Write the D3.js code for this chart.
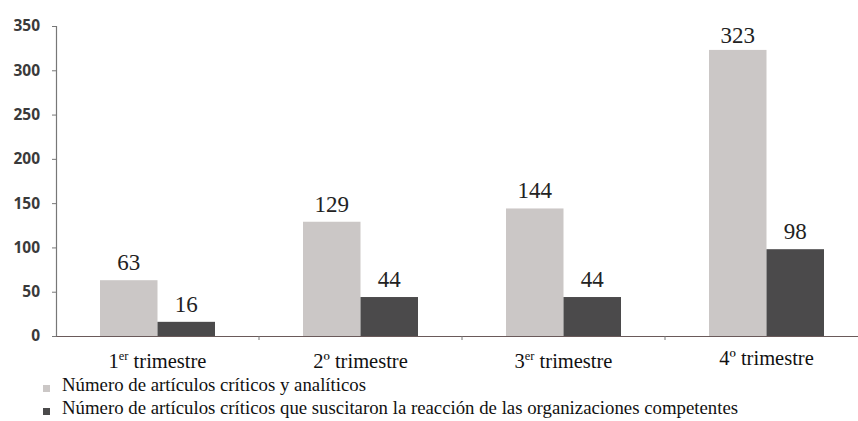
<!DOCTYPE html>
<html>
<head>
<meta charset="utf-8">
<script src="https://cdn.jsdelivr.net/npm/d3@7"></script>
<style>
  html, body { margin: 0; padding: 0; background: #fff; }
  svg { display: block; }
</style>
</head>
<body>
<svg id="chart" width="858" height="421"></svg>
<script>
// Quarters and the two article counts per quarter
const quarters = ["q1", "q2", "q3", "q4"];
const quarterNum = ["1", "2º", "3", "4º"];
const quarterSup = ["er", "", "er", ""];
const criticalArticles = [63, 129, 144, 323];
const withReaction = [16, 44, 44, 98];
const seriesNames = [
  "Número de artículos críticos y analíticos",
  "Número de artículos críticos que suscitaron la reacción de las organizaciones competentes"
];
const yTicks = [0, 50, 100, 150, 200, 250, 300, 350];

const colors = ["#cbc7c6", "#4b4a4b"];
const SERIF = '"Liberation Serif"';
const SANS = '"Open Sans"';

const svg = d3.select("#chart");
const x0 = 56, x1 = 868, yBase = 336, yTop = 26;

const x = d3.scaleBand().domain(quarters).range([x0, x1]).paddingInner(0).paddingOuter(0);
const y = d3.scaleLinear().domain([0, 350]).range([yBase, yTop]);
const groupW = 115;
const xs = d3.scaleBand().domain([0, 1]).range([0, groupW]);

// Bars and their value labels
const series = [criticalArticles, withReaction];
series.forEach((vals, si) => {
  svg.append("g").selectAll("rect")
    .data(vals)
    .join("rect")
    .attr("x", (d, i) => x(quarters[i]) + x.bandwidth() / 2 - groupW / 2 + xs(si))
    .attr("y", d => y(d))
    .attr("width", xs.bandwidth())
    .attr("height", d => y(0) - y(d))
    .attr("fill", colors[si]);

  svg.append("g").selectAll("text")
    .data(vals)
    .join("text")
    .attr("x", (d, i) => x(quarters[i]) + x.bandwidth() / 2 - groupW / 2 + xs(si) + xs.bandwidth() / 2)
    .attr("y", d => Math.max(y(d) - 10, 43))
    .attr("text-anchor", "middle")
    .style("font-family", SERIF)
    .style("font-size", "23px")
    .style("fill", "#222")
    .text(d => d);
});

// Y axis
const yAxis = d3.axisLeft(y).tickValues(yTicks).tickSize(4).tickPadding(12);
const gy = svg.append("g").attr("transform", `translate(${x0},0)`).call(yAxis);
gy.select(".domain").attr("stroke", "#777").attr("stroke-width", 1.2);
gy.selectAll(".tick line").attr("stroke", "#777");
gy.selectAll(".tick text")
  .style("font-family", SANS)
  .style("font-weight", "bold")
  .style("font-size", "15.5px")
  .style("fill", "#3a3a3a");

// X axis
const xAxis = d3.axisBottom(x).tickValues([]).tickSizeOuter(0);
const gx = svg.append("g").attr("transform", `translate(0,${yBase})`).call(xAxis);
gx.select(".domain").attr("stroke", "#6a5a5a").attr("stroke-width", 1.2);
// separator ticks between quarters
svg.append("g").selectAll("line")
  .data(quarters.slice(1))
  .join("line")
  .attr("x1", d => x(d)).attr("x2", d => x(d))
  .attr("y1", yBase).attr("y2", yBase + 4)
  .attr("stroke", "#777");

// Quarter labels, with the "er" ordinal raised
const lab = svg.append("g").selectAll("text")
  .data(quarters)
  .join("text")
  .attr("x", d => x(d) + x.bandwidth() / 2)
  .attr("y", (d, i) => i === 3 ? 365 : 368)
  .attr("text-anchor", "middle")
  .style("font-family", SERIF)
  .style("font-size", "20.5px")
  .style("fill", "#111");
lab.each(function(d, i) {
  const t = d3.select(this);
  t.append("tspan").text(quarterNum[i]);
  if (quarterSup[i]) {
    t.append("tspan").style("font-size", "12.5px").attr("dy", -8).text(quarterSup[i]);
    t.append("tspan").attr("dy", 8).text(" trimestre");
  } else {
    t.append("tspan").text(" trimestre");
  }
});

// Legend
const leg = svg.append("g").selectAll("g")
  .data(seriesNames)
  .join("g")
  .attr("transform", (d, i) => `translate(43,${391 + i * 23})`);
leg.append("rect")
  .attr("x", 0).attr("y", -6)
  .attr("width", 7).attr("height", 7)
  .attr("fill", (d, i) => colors[i]);
leg.append("text")
  .attr("x", 19).attr("y", 0)
  .style("font-family", SERIF)
  .style("font-size", "18.8px")
  .style("fill", "#111")
  .text(d => d);
</script>
</body>
</html>
